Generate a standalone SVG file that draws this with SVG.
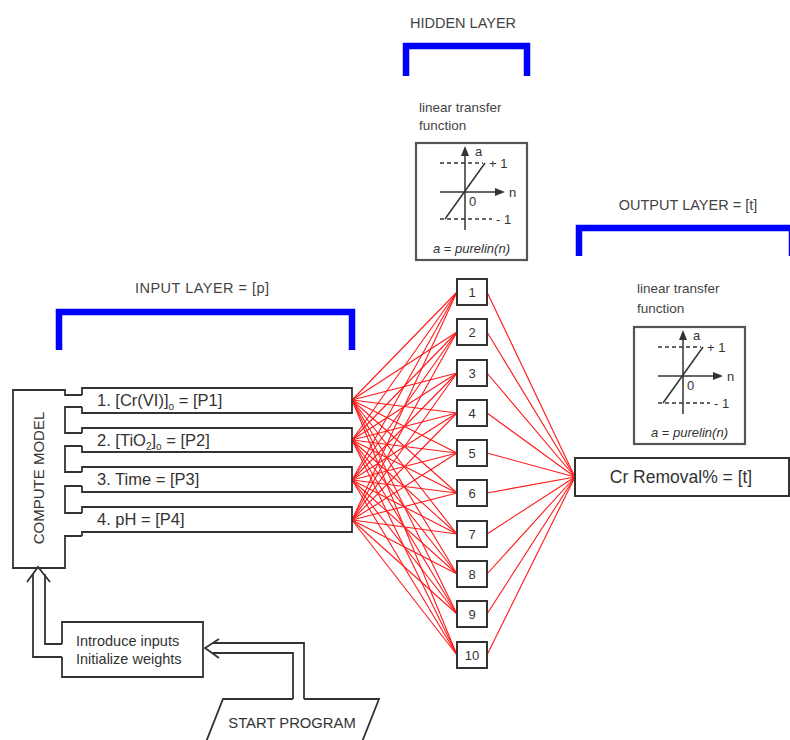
<svg xmlns="http://www.w3.org/2000/svg" width="790" height="740" viewBox="0 0 790 740">
<style>
text{font-family:"Liberation Sans",Arial,sans-serif;fill:#333}
.ln{fill:none;stroke:#333;stroke-width:1.8}
.box{fill:#fff;stroke:#333;stroke-width:2}
.fbox{fill:#fff;stroke:#555;stroke-width:2.2}
.br{fill:none;stroke:#0000ff;stroke-width:6.5}
.red line{stroke:#ff1a1a;stroke-width:1.1}
.cap{font-size:14.5px;fill:#444}
.lt{font-size:13.5px;fill:#444}
.in{font-size:16.5px}
.hn{font-size:13px;text-anchor:middle}
.tf{font-size:13px}
.ax{stroke:#333;stroke-width:1.5}
.dash{stroke:#333;stroke-width:1.3;stroke-dasharray:4 3}
</style>
<rect width="790" height="740" fill="#fff"/>

<g id="hidden-layer-title">
<text class="cap" x="463" y="28" text-anchor="middle">HIDDEN LAYER</text>
<path class="br" d="M406 76 V46 H527 V76"/>
</g>
<g id="input-layer-title">
<text class="cap" x="202" y="293" text-anchor="middle" textLength="134">INPUT LAYER = [p]</text>
<path class="br" d="M59 350 V312 H352 V350"/>
</g>
<g id="output-layer-title">
<text class="cap" x="688" y="210" text-anchor="middle">OUTPUT LAYER = [t]</text>
<path class="br" d="M579 256 V228 H792 V256"/>
</g>

<g id="connectors">
<g class="red">
<line x1="352" y1="400" x2="457" y2="292"/><line x1="352" y1="400" x2="457" y2="332"/><line x1="352" y1="400" x2="457" y2="373"/><line x1="352" y1="400" x2="457" y2="413"/><line x1="352" y1="400" x2="457" y2="453"/><line x1="352" y1="400" x2="457" y2="493"/><line x1="352" y1="400" x2="457" y2="534"/><line x1="352" y1="400" x2="457" y2="574"/><line x1="352" y1="400" x2="457" y2="614"/><line x1="352" y1="400" x2="457" y2="655"/>
<line x1="352" y1="440" x2="457" y2="292"/><line x1="352" y1="440" x2="457" y2="332"/><line x1="352" y1="440" x2="457" y2="373"/><line x1="352" y1="440" x2="457" y2="413"/><line x1="352" y1="440" x2="457" y2="453"/><line x1="352" y1="440" x2="457" y2="493"/><line x1="352" y1="440" x2="457" y2="534"/><line x1="352" y1="440" x2="457" y2="574"/><line x1="352" y1="440" x2="457" y2="614"/><line x1="352" y1="440" x2="457" y2="655"/>
<line x1="352" y1="480" x2="457" y2="292"/><line x1="352" y1="480" x2="457" y2="332"/><line x1="352" y1="480" x2="457" y2="373"/><line x1="352" y1="480" x2="457" y2="413"/><line x1="352" y1="480" x2="457" y2="453"/><line x1="352" y1="480" x2="457" y2="493"/><line x1="352" y1="480" x2="457" y2="534"/><line x1="352" y1="480" x2="457" y2="574"/><line x1="352" y1="480" x2="457" y2="614"/><line x1="352" y1="480" x2="457" y2="655"/>
<line x1="352" y1="520" x2="457" y2="292"/><line x1="352" y1="520" x2="457" y2="332"/><line x1="352" y1="520" x2="457" y2="373"/><line x1="352" y1="520" x2="457" y2="413"/><line x1="352" y1="520" x2="457" y2="453"/><line x1="352" y1="520" x2="457" y2="493"/><line x1="352" y1="520" x2="457" y2="534"/><line x1="352" y1="520" x2="457" y2="574"/><line x1="352" y1="520" x2="457" y2="614"/><line x1="352" y1="520" x2="457" y2="655"/>
<line x1="487" y1="292" x2="575" y2="477"/><line x1="487" y1="332" x2="575" y2="477"/><line x1="487" y1="373" x2="575" y2="477"/><line x1="487" y1="413" x2="575" y2="477"/><line x1="487" y1="453" x2="575" y2="477"/><line x1="487" y1="493" x2="575" y2="477"/><line x1="487" y1="534" x2="575" y2="477"/><line x1="487" y1="574" x2="575" y2="477"/><line x1="487" y1="614" x2="575" y2="477"/><line x1="487" y1="655" x2="575" y2="477"/>
</g>
<path class="ln" d="M82 407 H65 V433 H82"/>
<path class="ln" d="M82 446 H65 V472 H82"/>
<path class="ln" d="M82 486 H65 V513 H82"/>
<path class="ln" d="M62 657 H33 V574"/>
<path class="ln" d="M62 644 H45 V574"/>
<path class="ln" d="M27 582 L38 567 L50 582"/>
<path class="ln" d="M304 699 V643 H213"/>
<path class="ln" d="M293 699 V653 H213"/>
<path class="ln" d="M219 639 L205 648 L219 658"/>
</g>

<g id="compute-model">
<path class="ln" d="M82 395 H65 V390 H13 V568 H65 V536 H82"/>
<text font-size="15" text-anchor="middle" transform="translate(44,478) rotate(-90)">COMPUTE MODEL</text>
</g>

<g id="input-1">
<path class="ln" d="M82 395 V388 H352 V413 H82 V407"/>
<text class="in" x="97" y="406">1. [Cr(VI)]<tspan font-size="10" dy="4">o</tspan><tspan dy="-4"> = [P1]</tspan></text>
</g>
<g id="input-2">
<path class="ln" d="M82 433 V428 H352 V452 H82 V446"/>
<text class="in" x="97" y="446">2. [TiO<tspan font-size="10" dy="4">2</tspan><tspan dy="-4">]</tspan><tspan font-size="10" dy="4">o</tspan><tspan dy="-4"> = [P2]</tspan></text>
</g>
<g id="input-3">
<path class="ln" d="M82 472 V467 H352 V492 H82 V486"/>
<text class="in" x="97" y="485">3. Time = [P3]</text>
</g>
<g id="input-4">
<path class="ln" d="M82 513 V507 H352 V532 H82 V536"/>
<text class="in" x="97" y="525">4. pH = [P4]</text>
</g>

<g id="hidden-nodes">
<g id="h1"><rect class="box" x="457" y="279" width="30" height="26"/><text class="hn" x="472" y="297">1</text></g>
<g id="h2"><rect class="box" x="457" y="319" width="30" height="26"/><text class="hn" x="472" y="337">2</text></g>
<g id="h3"><rect class="box" x="457" y="360" width="30" height="26"/><text class="hn" x="472" y="378">3</text></g>
<g id="h4"><rect class="box" x="457" y="400" width="30" height="26"/><text class="hn" x="472" y="418">4</text></g>
<g id="h5"><rect class="box" x="457" y="440" width="30" height="26"/><text class="hn" x="472" y="458">5</text></g>
<g id="h6"><rect class="box" x="457" y="480" width="30" height="26"/><text class="hn" x="472" y="498">6</text></g>
<g id="h7"><rect class="box" x="457" y="521" width="30" height="26"/><text class="hn" x="472" y="539">7</text></g>
<g id="h8"><rect class="box" x="457" y="561" width="30" height="26"/><text class="hn" x="472" y="579">8</text></g>
<g id="h9"><rect class="box" x="457" y="601" width="30" height="26"/><text class="hn" x="472" y="619">9</text></g>
<g id="h10"><rect class="box" x="457" y="642" width="30" height="26"/><text class="hn" x="472" y="660">10</text></g>
</g>

<g id="hidden-transfer">
<text class="lt" x="419" y="112">linear transfer</text>
<text class="lt" x="419" y="130">function</text>
<rect class="fbox" x="416" y="143" width="111" height="117"/>
<line class="dash" x1="440" y1="163" x2="483" y2="163"/>
<line class="dash" x1="440" y1="219" x2="492" y2="219"/>
<line class="ax" x1="465" y1="230" x2="465" y2="153"/>
<polygon points="465,146 461,156 469,156" fill="#333"/>
<line class="ax" x1="440" y1="192" x2="497" y2="192"/>
<polygon points="505,192 495,188 495,196" fill="#333"/>
<line class="ax" x1="445" y1="219" x2="485" y2="163"/>
<text class="tf" x="475" y="156">a</text>
<text class="tf" x="509" y="197">n</text>
<text class="tf" x="489" y="168">+ 1</text>
<text class="tf" x="469" y="206">0</text>
<text class="tf" x="496" y="224">- 1</text>
<text class="tf" x="471.5" y="253" font-size="14" text-anchor="middle"><tspan font-style="italic">a</tspan> = <tspan font-style="italic">purelin(n)</tspan></text>
</g>

<g id="output-transfer">
<text class="lt" x="637" y="293">linear transfer</text>
<text class="lt" x="637" y="313">function</text>
<g transform="translate(218,184)">
<rect class="fbox" x="416" y="143" width="111" height="117"/>
<line class="dash" x1="440" y1="163" x2="483" y2="163"/>
<line class="dash" x1="440" y1="219" x2="492" y2="219"/>
<line class="ax" x1="465" y1="230" x2="465" y2="153"/>
<polygon points="465,146 461,156 469,156" fill="#333"/>
<line class="ax" x1="440" y1="192" x2="497" y2="192"/>
<polygon points="505,192 495,188 495,196" fill="#333"/>
<line class="ax" x1="445" y1="219" x2="485" y2="163"/>
<text class="tf" x="475" y="156">a</text>
<text class="tf" x="509" y="197">n</text>
<text class="tf" x="489" y="168">+ 1</text>
<text class="tf" x="469" y="206">0</text>
<text class="tf" x="496" y="224">- 1</text>
<text class="tf" x="471.5" y="253" font-size="14" text-anchor="middle"><tspan font-style="italic">a</tspan> = <tspan font-style="italic">purelin(n)</tspan></text>
</g>
</g>

<g id="output-node">
<rect class="box" x="575" y="458" width="214" height="38"/>
<text x="681" y="483" font-size="17.5" text-anchor="middle">Cr Removal% = [t]</text>
</g>

<g id="initialize">
<path class="ln" d="M62 644 V622 H203 V677 H62 V657"/>
<text x="76" y="646" font-size="14.5">Introduce inputs</text>
<text x="76" y="664" font-size="14.5">Initialize weights</text>
</g>

<g id="start-program">
<path class="ln" d="M293 699 H223 L206 742"/>
<path class="ln" d="M304 699 H379 L362 742"/>
<text x="292" y="728" font-size="14.8" text-anchor="middle">START PROGRAM</text>
</g>
</svg>
